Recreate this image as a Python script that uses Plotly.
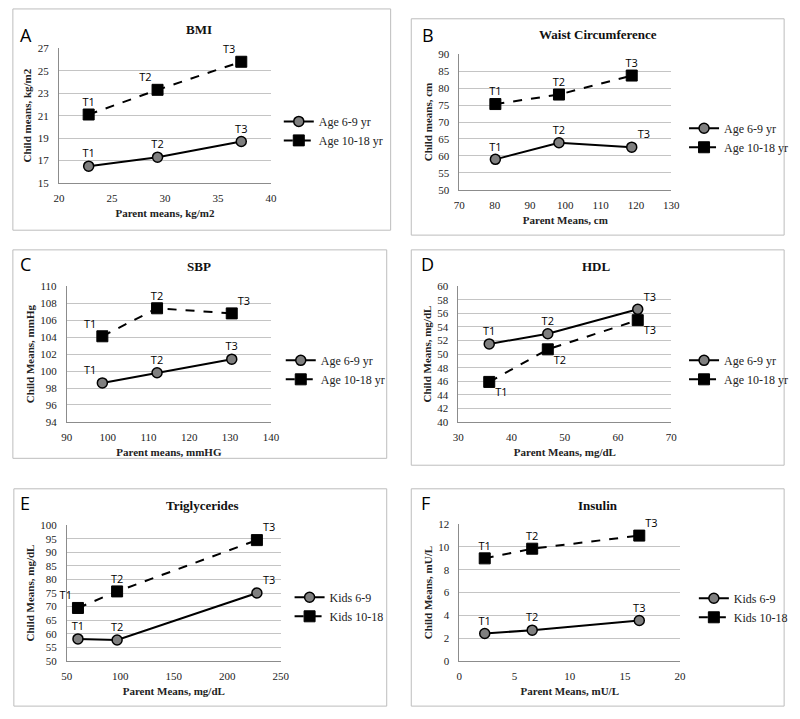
import plotly.graph_objects as go

W, H = 800, 719

# ---------------- data ----------------
bmi_parent = [22.8, 29.3, 37.2]
bmi_young = [16.5, 17.3, 18.7]
bmi_old = [21.1, 23.3, 25.8]

waist_parent = [80.2, 98.2, 118.8]
waist_young = [59.0, 63.9, 62.6]
waist_old = [75.3, 78.1, 83.7]

sbp_parent = [98.7, 112.1, 130.4]
sbp_young = [98.6, 99.8, 101.4]
sbp_old = [104.1, 107.4, 106.8]

hdl_parent = [35.8, 46.8, 63.7]
hdl_young = [51.5, 53.0, 56.6]
hdl_old = [45.9, 50.7, 55.0]

tg_parent = [60.4, 97.0, 227.7]
tg_young = [58.1, 57.7, 75.0]
tg_old = [69.5, 75.6, 94.5]

ins_parent = [2.3, 6.6, 16.3]
ins_young = [2.4, 2.7, 3.55]
ins_old = [9.0, 9.85, 11.0]

point_labels = ["T1", "T2", "T3"]
age_names = ["Age 6-9 yr", "Age 10-18 yr"]
kid_names = ["Kids 6-9", "Kids 10-18"]

panels = [
    dict(letter="A", title="BMI", xt="Parent means, kg/m2", yt="Child means, kg/m2",
         px=bmi_parent, y1=bmi_young, y2=bmi_old, names=age_names,
         xr=[20, 40], dx=5, yr=[15, 27], dy=2,
         dom=(54, 270, 43, 180), box=(7, 392, 3, 228), tpos=(197, 24), lpos=(12, 30), leg=(278, 127),
         pos1=["top center", "top center", "top center"],
         pos2=["top center", "top left", "top left"]),
    dict(letter="B", title="Waist Circumference", xt="Parent Means, cm", yt="Child means, cm",
         px=waist_parent, y1=waist_young, y2=waist_old, names=age_names,
         xr=[70, 130], dx=10, yr=[50, 90], dy=5,
         dom=(462, 678, 49, 187), box=(413, 793, 13, 233), tpos=(603, 29), lpos=(422, 30), leg=(691, 134),
         pos1=["top center", "top center", "top right"],
         pos2=["top center", "top center", "top center"]),
    dict(letter="C", title="SBP", xt="Parent means, mmHG", yt="Child Means, mmHg",
         px=sbp_parent, y1=sbp_young, y2=sbp_old, names=age_names,
         xr=[90, 140], dx=10, yr=[94, 110], dy=2,
         dom=(62, 270, 285, 423), box=(7, 388, 248, 460), tpos=(197, 265), lpos=(12, 262), leg=(280, 370),
         pos1=["top left", "top center", "top center"],
         pos2=["top left", "top center", "top right"]),
    dict(letter="D", title="HDL", xt="Parent Means, mg/dL", yt="Child Means, mg/dL",
         px=hdl_parent, y1=hdl_young, y2=hdl_old, names=age_names,
         xr=[30, 70], dx=10, yr=[40, 60], dy=2,
         dom=(461, 678, 285, 423), box=(413, 793, 248, 467), tpos=(602, 265), lpos=(421, 262), leg=(691, 370),
         pos1=["top center", "top center", "top right"],
         pos2=["bottom right", "bottom right", "bottom right"]),
    dict(letter="E", title="Triglycerides", xt="Parent Means, mg/dL", yt="Child Means, mg/dL",
         px=tg_parent, y1=tg_young, y2=tg_old, names=kid_names,
         xr=[50, 250], dx=50, yr=[50, 100], dy=5,
         dom=(62, 280, 528, 666), box=(8, 388, 491, 712), tpos=(200, 508), lpos=(12, 505), leg=(289, 611),
         pos1=["top center", "top center", "top right"],
         pos2=["top left", "top center", "top right"]),
    dict(letter="F", title="Insulin", xt="Parent Means, mU/L", yt="Child Means, mU/L",
         px=ins_parent, y1=ins_young, y2=ins_old, names=kid_names,
         xr=[0, 20], dx=5, yr=[0, 12], dy=2,
         dom=(462, 687, 527, 666), box=(413, 793, 491, 712), tpos=(603, 508), lpos=(421, 505), leg=(701, 612),
         pos1=["top center", "top center", "top center"],
         pos2=["top center", "top center", "top right"]),
]

SERIF = "Liberation Serif, Times New Roman, serif"
SANS = "Open Sans, Liberation Sans, sans-serif"

fig = go.Figure()
layout = dict(width=W, height=H, margin=dict(l=0, r=0, t=0, b=0),
              paper_bgcolor="white", plot_bgcolor="white", showlegend=True)
shapes = []
annotations = []


def fx(p):
    return p / W


def fy(p):
    return 1 - p / H


for i, p in enumerate(panels):
    n = i + 1
    xa = "x" if n == 1 else f"x{n}"
    ya = "y" if n == 1 else f"y{n}"
    lg = "legend" if n == 1 else f"legend{n}"
    l, r, t, b = p["dom"]
    layout["xaxis" if n == 1 else f"xaxis{n}"] = dict(
        domain=[fx(l), fx(r)], range=p["xr"], dtick=p["dx"], tick0=p["xr"][0],
        anchor=ya, showgrid=False, zeroline=False, showline=True,
        linecolor="#8c8c8c", linewidth=1, ticks="", ticklabelstandoff=5,
        tickfont=dict(family=SERIF, size=11, color="#222"),
        title=dict(text=f"<b>{p['xt']}</b>", font=dict(family=SERIF, size=11, color="#222"), standoff=6),
    )
    layout["yaxis" if n == 1 else f"yaxis{n}"] = dict(
        domain=[fy(b), fy(t)], range=p["yr"], dtick=p["dy"], tick0=p["yr"][0],
        anchor=xa, showgrid=True, gridcolor="#c4c4c4", gridwidth=1, zeroline=False,
        showline=True, linecolor="#8c8c8c", linewidth=1, ticks="", ticklabelstandoff=7,
        tickfont=dict(family=SERIF, size=11, color="#222"),
        title=dict(text=f"<b>{p['yt']}</b>", font=dict(family=SERIF, size=11, color="#222"), standoff=3),
    )
    # lines + markers
    fig.add_trace(go.Scatter(
        x=p["px"], y=p["y1"], xaxis=xa, yaxis=ya, mode="lines+markers", name=p["names"][0],
        legend=lg, line=dict(color="black", width=2),
        marker=dict(symbol="circle", size=10, color="#7f7f7f", line=dict(color="black", width=1.5)),
        hoverinfo="skip"))
    fig.add_trace(go.Scatter(
        x=p["px"], y=p["y2"], xaxis=xa, yaxis=ya, mode="lines+markers", name=p["names"][1],
        legend=lg, line=dict(color="black", width=2, dash="dash"),
        marker=dict(symbol="square", size=11, color="black", line=dict(color="black", width=1)),
        hoverinfo="skip"))
    # point labels (transparent markers give the text its offset)
    for ys, pos in ((p["y1"], p["pos1"]), (p["y2"], p["pos2"])):
        fig.add_trace(go.Scatter(
            x=p["px"], y=ys, xaxis=xa, yaxis=ya, mode="markers+text", text=point_labels,
            textposition=pos, textfont=dict(family=SANS, size=11, color="black"),
            marker=dict(size=8, color="rgba(0,0,0,0)"), cliponaxis=False,
            showlegend=False, hoverinfo="skip"))
    # legend
    bl, br, bt, bb = p["box"]
    lx, ly = p["leg"]
    layout[lg] = dict(x=fx(lx), y=fy(ly), xanchor="left", yanchor="middle",
                      font=dict(family=SERIF, size=12, color="#222"), bgcolor="rgba(0,0,0,0)",
                      itemwidth=30, tracegroupgap=0)
    # box
    shapes.append(dict(type="rect", xref="paper", yref="paper", x0=fx(bl), x1=fx(br),
                       y0=fy(bb), y1=fy(bt), line=dict(color="#bdbdbd", width=1)))
    # title
    tx, ty = p["tpos"]
    annotations.append(dict(text=f"<b>{p['title']}</b>", xref="paper", yref="paper",
                            x=fx(tx), y=fy(ty), xanchor="center", yanchor="middle",
                            showarrow=False, font=dict(family=SERIF, size=13, color="#111")))
    # letter
    lxx, lyy = p["lpos"]
    annotations.append(dict(text=p["letter"], xref="paper", yref="paper",
                            x=fx(lxx), y=fy(lyy), xanchor="left", yanchor="middle",
                            showarrow=False, font=dict(family=SANS, size=18, color="black")))

layout["shapes"] = shapes
layout["annotations"] = annotations
fig.update_layout(**layout)
fig.write_html("out.html", config={"displayModeBar": False},
               post_script="document.body.style.margin='0';")
